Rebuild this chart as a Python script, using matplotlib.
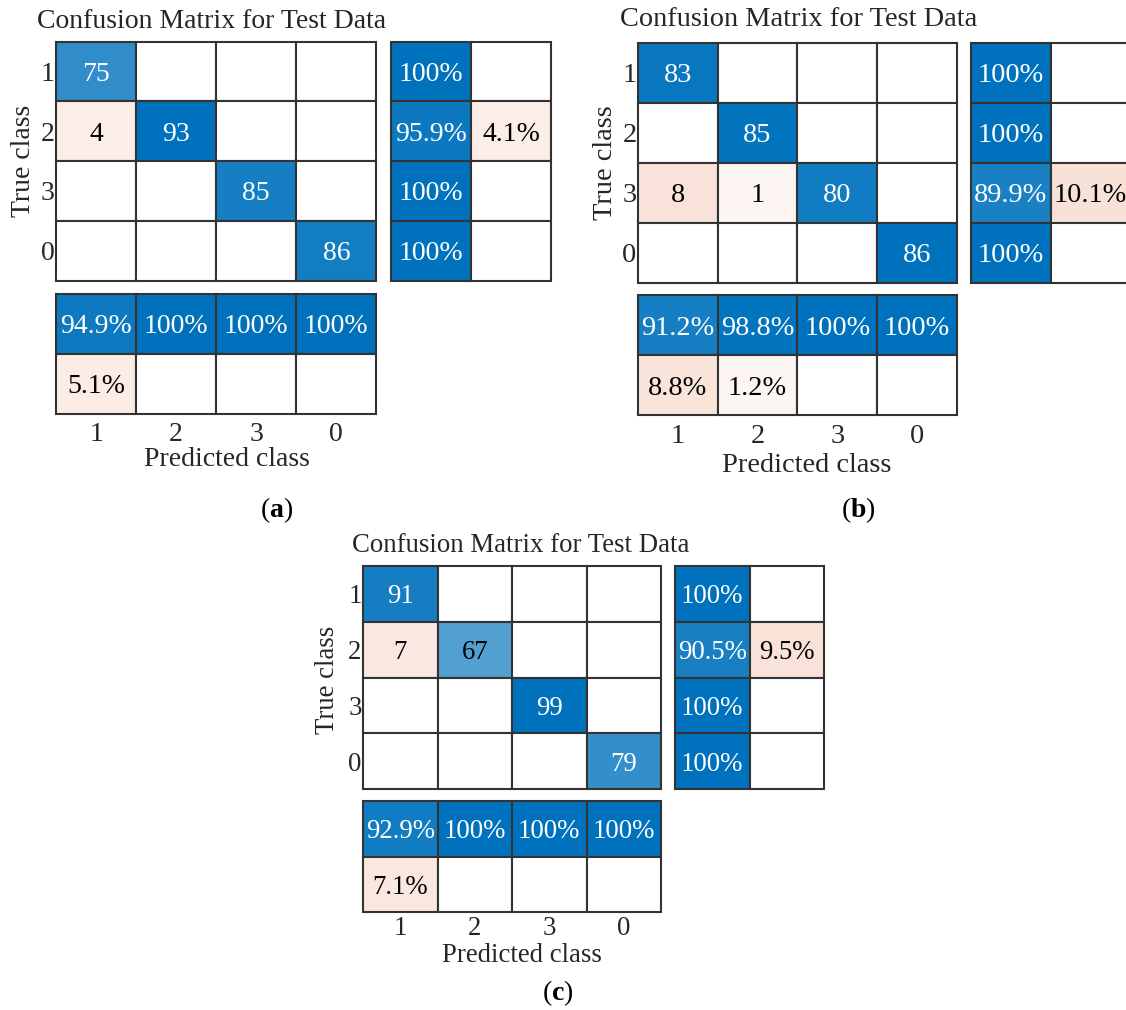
import numpy as np
import matplotlib
matplotlib.use('Agg')
import matplotlib.pyplot as plt
from matplotlib.patches import Rectangle

plt.rcParams['font.family'] = 'Liberation Serif'
plt.rcParams['mathtext.fontset'] = 'custom'
plt.rcParams['mathtext.rm'] = 'Liberation Serif'
plt.rcParams['mathtext.bf'] = 'Liberation Serif:bold'

# class order as shown on the axes
class_labels = ['1', '2', '3', '0']

# confusion matrices (rows = true class, cols = predicted class)
cm_a = [[75, 0, 0, 0],
        [4, 93, 0, 0],
        [0, 0, 85, 0],
        [0, 0, 0, 86]]
cm_b = [[83, 0, 0, 0],
        [0, 85, 0, 0],
        [8, 1, 80, 0],
        [0, 0, 0, 86]]
cm_c = [[91, 0, 0, 0],
        [7, 67, 0, 0],
        [0, 0, 99, 0],
        [0, 0, 0, 79]]

title = 'Confusion Matrix for Test Data'
captions = ['a', 'b', 'c']

W, H = 1126, 1010
BLUE = np.array([0, 114, 189]) / 255
ORANGE = np.array([217, 83, 25]) / 255
EDGE = '#333333'
TXT = '#262626'

fig = plt.figure(figsize=(W / 100, H / 100), dpi=100)
fig.patch.set_facecolor('white')


def px_axes(left, top, w, h):
    return fig.add_axes([left / W, 1 - (top + h) / H, w / W, h / H])


def blend(base, t):
    t = min(max(t, 0), 1)
    return 1 - (1 - base) * t


def pct(p):
    if round(p * 100, 1) == 100:
        return '100%'
    return f'{p * 100:.1f}%'


def draw_cells(ax, cells, nrows, ncols, fs):
    # cells: dict (row, col) -> (frac, positive, label)
    ax.set_xlim(0, ncols)
    ax.set_ylim(nrows, 0)
    for sp in ax.spines.values():
        sp.set_visible(False)
    ax.tick_params(length=0)
    ax.set_xticks([])
    ax.set_yticks([])
    for i in range(nrows):
        for j in range(ncols):
            face = 'white'
            if (i, j) in cells:
                frac, positive, label = cells[(i, j)]
                if positive:
                    face = blend(BLUE, frac)
                    tc = 'white' if frac > 0.7 else 'black'
                else:
                    face = blend(ORANGE, 0.045 + 1.3 * frac)
                    tc = 'black'
                ax.text(j + 0.5, i + 0.5, label, ha='center', va='center_baseline',
                        color=tc, fontsize=fs)
            ax.add_patch(Rectangle((j, i), 1, 1, facecolor=face, edgecolor=EDGE,
                                   linewidth=1.5, clip_on=False))


def panel(cm, lay, cap):
    cm = np.array(cm)
    n = len(class_labels)
    s = lay['scale']
    fs = 20 * s
    x0, y0, cw, ch = lay['main']

    # main matrix
    ax = px_axes(x0, y0, cw * n, ch * n)
    cells = {}
    vmax = cm.max()
    for i in range(n):
        for j in range(n):
            if cm[i, j] > 0:
                cells[(i, j)] = (cm[i, j] / vmax, i == j, str(cm[i, j]))
    draw_cells(ax, cells, n, n, fs)
    ax.set_yticks(np.arange(n) + 0.5)
    ax.set_yticklabels(class_labels, fontsize=fs, color=TXT, va='center_baseline')
    ax.tick_params(axis='y', length=0, pad=1)

    # row summary (per true class)
    ax_r = px_axes(lay['row_left'], y0, cw * 2, ch * n)
    cells = {}
    for i in range(n):
        good = cm[i, i] / cm[i].sum()
        cells[(i, 0)] = (good, True, pct(good))
        if 1 - good > 1e-9:
            cells[(i, 1)] = (1 - good, False, pct(1 - good))
    draw_cells(ax_r, cells, n, 2, fs)

    # column summary (per predicted class)
    ax_c = px_axes(x0, lay['col_top'], cw * n, lay['col_h'] * 2)
    cells = {}
    for j in range(n):
        good = cm[j, j] / cm[:, j].sum()
        cells[(0, j)] = (good, True, pct(good))
        if 1 - good > 1e-9:
            cells[(1, j)] = (1 - good, False, pct(1 - good))
    draw_cells(ax_c, cells, 2, n, fs)
    ax_c.set_xticks(np.arange(n) + 0.5)
    ax_c.set_xticklabels(class_labels, fontsize=fs, color=TXT)
    ax_c.tick_params(axis='x', length=0, pad=lay['xpad'])

    # texts
    tx, ty = lay['title']
    fig.text(tx / W, 1 - ty / H, title, ha='center', va='center',
             fontsize=fs, color=TXT)
    yx, yy = lay['ylabel']
    fig.text(yx / W, 1 - yy / H, 'True class', ha='center', va='center',
             rotation=90, fontsize=fs, color=TXT)
    lx, ly = lay['xlabel']
    fig.text(lx / W, 1 - ly / H, 'Predicted class', ha='center', va='center',
             fontsize=fs, color=TXT)
    cx, cy = lay['caption']
    fig.text(cx / W, 1 - cy / H, r'($\mathbf{' + cap + '}$)', ha='center',
             va='center', fontsize=20, color='black')


layouts = [
    dict(scale=1.0, main=(56, 41.5, 80.1, 59.8), row_left=391, col_top=293.5,
         col_h=60.3, xpad=6, title=(212, 22), ylabel=(24, 161), xlabel=(227, 460),
         caption=(277, 510)),
    dict(scale=1.02, main=(638, 43, 79.7, 60.0), row_left=971, col_top=295,
         col_h=60.2, xpad=6, title=(799, 19), ylabel=(606, 163), xlabel=(807, 465),
         caption=(858, 510)),
    dict(scale=0.965, main=(363, 566, 74.5, 55.8), row_left=675, col_top=801,
         col_h=55.5, xpad=3, title=(521, 546), ylabel=(327, 680), xlabel=(522, 955),
         caption=(558, 993)),
]

for cm, lay, cap in zip([cm_a, cm_b, cm_c], layouts, captions):
    panel(cm, lay, cap)

fig.savefig('out.png', dpi=100, facecolor='white')
